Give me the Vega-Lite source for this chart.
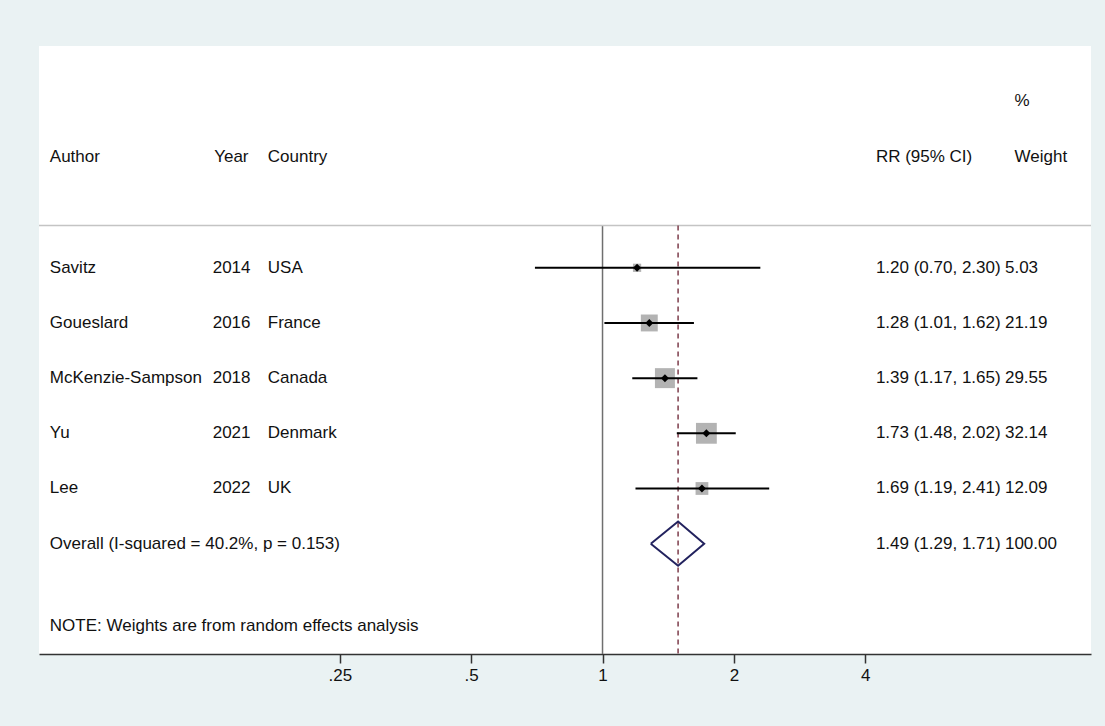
{
  "$schema": "https://vega.github.io/schema/vega-lite/v6.json",
  "autosize": {"type": "none"},
  "width": 1052,
  "height": 608,
  "padding": {"left": 39, "top": 46, "right": 14, "bottom": 72},
  "background": "#eaf2f3",
  "config": {
    "view": {"fill": "#ffffff", "stroke": null},
    "font": "Liberation Sans",
    "text": {"font": "Liberation Sans", "fontSize": 17, "color": "#111111", "align": "left", "baseline": "middle"},
    "axis": {
      "domainColor": "#333333",
      "domainWidth": 1.5,
      "tickColor": "#333333",
      "tickWidth": 1.5,
      "tickSize": 9,
      "labelFont": "Liberation Sans",
      "labelFontSize": 17,
      "labelColor": "#111111",
      "labelPadding": 4,
      "grid": false
    }
  },
  "datasets": {
    "studies": [
      {"author": "Savitz", "year": "2014", "country": "USA", "rr": 1.20, "lo": 0.70, "hi": 2.30, "weight": 5.03, "row": 1},
      {"author": "Goueslard", "year": "2016", "country": "France", "rr": 1.28, "lo": 1.01, "hi": 1.62, "weight": 21.19, "row": 2},
      {"author": "McKenzie-Sampson", "year": "2018", "country": "Canada", "rr": 1.39, "lo": 1.17, "hi": 1.65, "weight": 29.55, "row": 3},
      {"author": "Yu", "year": "2021", "country": "Denmark", "rr": 1.73, "lo": 1.48, "hi": 2.02, "weight": 32.14, "row": 4},
      {"author": "Lee", "year": "2022", "country": "UK", "rr": 1.69, "lo": 1.19, "hi": 2.41, "weight": 12.09, "row": 5}
    ],
    "overall": [
      {"label": "Overall (I-squared = 40.2%, p = 0.153)", "rr": 1.49, "lo": 1.29, "hi": 1.71, "weight": 100, "row": 6}
    ],
    "diamond": [
      {"x": 1.29, "y": 6, "o": 0},
      {"x": 1.49, "y": 5.6, "o": 1},
      {"x": 1.71, "y": 6, "o": 2},
      {"x": 1.49, "y": 6.4, "o": 3},
      {"x": 1.29, "y": 6, "o": 4}
    ]
  },
  "layer": [
    {
      "data": {"values": [{}]},
      "mark": {"type": "rule", "color": "#6f6f6f", "strokeWidth": 1.5},
      "encoding": {
        "x": {
          "datum": 1,
          "type": "quantitative",
          "scale": {"type": "log", "domain": [0.0511, 13.17], "nice": false, "zero": false},
          "axis": {
            "values": [0.25, 0.5, 1, 2, 4],
            "labelExpr": "replace(format(datum.value, '~g'), '0.', '.')",
            "title": null
          }
        },
        "y": {
          "datum": 0.234,
          "type": "quantitative",
          "scale": {"domain": [-3.02, 8], "reverse": true, "nice": false, "zero": false},
          "axis": null
        },
        "y2": {"datum": 8}
      }
    },
    {
      "data": {"values": [{}]},
      "mark": {"type": "rule", "color": "#c4c4c4", "strokeWidth": 1.5},
      "encoding": {
        "y": {"datum": 0.234, "type": "quantitative", "axis": null}
      }
    },
    {
      "data": {"name": "overall"},
      "mark": {"type": "rule", "color": "#7d3c4b", "strokeWidth": 1.5, "strokeDash": [5, 4]},
      "encoding": {
        "x": {"field": "rr", "type": "quantitative"},
        "y": {"datum": 0.234, "type": "quantitative", "axis": null},
        "y2": {"datum": 8}
      }
    },
    {
      "data": {"name": "studies"},
      "mark": {"type": "square", "filled": true, "color": "#b3b3b3", "opacity": 1},
      "encoding": {
        "x": {"field": "rr", "type": "quantitative"},
        "y": {"field": "row", "type": "quantitative", "axis": null},
        "size": {
          "field": "weight",
          "type": "quantitative",
          "scale": {"type": "linear", "domain": [0, 100], "range": [0, 1350], "zero": true},
          "legend": null
        }
      }
    },
    {
      "data": {"name": "studies"},
      "mark": {"type": "rule", "color": "#000000", "strokeWidth": 2},
      "encoding": {
        "x": {"field": "lo", "type": "quantitative"},
        "x2": {"field": "hi"},
        "y": {"field": "row", "type": "quantitative", "axis": null}
      }
    },
    {
      "data": {"name": "studies"},
      "mark": {"type": "point", "shape": "diamond", "filled": true, "color": "#000000", "opacity": 1, "size": 64},
      "encoding": {
        "x": {"field": "rr", "type": "quantitative"},
        "y": {"field": "row", "type": "quantitative", "axis": null}
      }
    },
    {
      "data": {"name": "diamond"},
      "mark": {"type": "line", "color": "#22225e", "strokeWidth": 2},
      "encoding": {
        "x": {"field": "x", "type": "quantitative"},
        "y": {"field": "y", "type": "quantitative", "axis": null},
        "order": {"field": "o", "type": "quantitative"}
      }
    },
    {
      "data": {"name": "studies"},
      "mark": {"type": "text"},
      "encoding": {
        "x": {"datum": 0.0541, "type": "quantitative"},
        "y": {"field": "row", "type": "quantitative", "axis": null},
        "text": {"field": "author", "type": "nominal"}
      }
    },
    {
      "data": {"name": "studies"},
      "mark": {"type": "text"},
      "encoding": {
        "x": {"datum": 0.1278, "type": "quantitative"},
        "y": {"field": "row", "type": "quantitative", "axis": null},
        "text": {"field": "year", "type": "nominal"}
      }
    },
    {
      "data": {"name": "studies"},
      "mark": {"type": "text"},
      "encoding": {
        "x": {"datum": 0.1709, "type": "quantitative"},
        "y": {"field": "row", "type": "quantitative", "axis": null},
        "text": {"field": "country", "type": "nominal"}
      }
    },
    {
      "data": {"name": "studies"},
      "transform": [
        {"calculate": "format(datum.rr, '.2f') + ' (' + format(datum.lo, '.2f') + ', ' + format(datum.hi, '.2f') + ')'", "as": "ci_text"},
        {"calculate": "format(datum.weight, '.2f')", "as": "w_text"}
      ],
      "layer": [
        {
          "mark": {"type": "text"},
          "encoding": {
            "x": {"datum": 4.232, "type": "quantitative"},
            "y": {"field": "row", "type": "quantitative", "axis": null},
            "text": {"field": "ci_text", "type": "nominal"}
          }
        },
        {
          "mark": {"type": "text"},
          "encoding": {
            "x": {"datum": 8.363, "type": "quantitative"},
            "y": {"field": "row", "type": "quantitative", "axis": null},
            "text": {"field": "w_text", "type": "nominal"}
          }
        }
      ]
    },
    {
      "data": {"name": "overall"},
      "transform": [
        {"calculate": "format(datum.rr, '.2f') + ' (' + format(datum.lo, '.2f') + ', ' + format(datum.hi, '.2f') + ')'", "as": "ci_text"},
        {"calculate": "format(datum.weight, '.2f')", "as": "w_text"}
      ],
      "layer": [
        {
          "mark": {"type": "text"},
          "encoding": {
            "x": {"datum": 0.0541, "type": "quantitative"},
            "y": {"field": "row", "type": "quantitative", "axis": null},
            "text": {"field": "label", "type": "nominal"}
          }
        },
        {
          "mark": {"type": "text"},
          "encoding": {
            "x": {"datum": 4.232, "type": "quantitative"},
            "y": {"field": "row", "type": "quantitative", "axis": null},
            "text": {"field": "ci_text", "type": "nominal"}
          }
        },
        {
          "mark": {"type": "text"},
          "encoding": {
            "x": {"datum": 8.363, "type": "quantitative"},
            "y": {"field": "row", "type": "quantitative", "axis": null},
            "text": {"field": "w_text", "type": "nominal"}
          }
        }
      ]
    },
    {
      "data": {"values": [{}]},
      "layer": [
        {
          "mark": {"type": "text", "text": "Author"},
          "encoding": {
            "x": {"datum": 0.0541, "type": "quantitative"},
            "y": {"datum": -1, "type": "quantitative", "axis": null}
          }
        },
        {
          "mark": {"type": "text", "text": "Year"},
          "encoding": {
            "x": {"datum": 0.1288, "type": "quantitative"},
            "y": {"datum": -1, "type": "quantitative", "axis": null}
          }
        },
        {
          "mark": {"type": "text", "text": "Country"},
          "encoding": {
            "x": {"datum": 0.1709, "type": "quantitative"},
            "y": {"datum": -1, "type": "quantitative", "axis": null}
          }
        },
        {
          "mark": {"type": "text", "text": "RR (95% CI)"},
          "encoding": {
            "x": {"datum": 4.232, "type": "quantitative"},
            "y": {"datum": -1, "type": "quantitative", "axis": null}
          }
        },
        {
          "mark": {"type": "text", "text": "Weight"},
          "encoding": {
            "x": {"datum": 8.8, "type": "quantitative"},
            "y": {"datum": -1, "type": "quantitative", "axis": null}
          }
        },
        {
          "mark": {"type": "text", "text": "%"},
          "encoding": {
            "x": {"datum": 8.8, "type": "quantitative"},
            "y": {"datum": -2.03, "type": "quantitative", "axis": null}
          }
        },
        {
          "mark": {"type": "text", "text": "NOTE: Weights are from random effects analysis"},
          "encoding": {
            "x": {"datum": 0.0541, "type": "quantitative"},
            "y": {"datum": 7.5, "type": "quantitative", "axis": null}
          }
        }
      ]
    }
  ]
}
